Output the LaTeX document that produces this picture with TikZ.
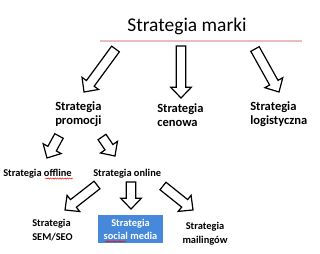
\documentclass[tikz,border=0pt]{standalone}
\usepackage{fontspec}
\setmainfont{Carlito}
\usetikzlibrary{calc,decorations.pathmorphing}

\definecolor{boxblue}{RGB}{70,136,218}
\definecolor{rulepink}{RGB}{232,190,186}

% hollow block arrow between two named coordinates
\newcommand{\blockarrow}[2]{%
  \coordinate (hb) at ($(#2)!8pt!(#1)$);
  \draw[barrow] ($(#1)!3.6pt!90:(#2)$) -- ($(hb)!3.6pt!90:(#2)$)
    -- ($(hb)!7.7pt!90:(#2)$) -- (#2) -- ($(hb)!7.7pt!-90:(#2)$)
    -- ($(hb)!3.6pt!-90:(#2)$) -- ($(#1)!3.6pt!-90:(#2)$) -- cycle;}

\begin{document}
\begin{tikzpicture}[x=0.75pt,y=-0.75pt,
	barrow/.style={draw=black,fill=white,line width=0.9pt,line join=miter},
	toplbl/.style={font=\fontsize{14.6}{16}\selectfont,anchor=base,inner sep=0pt},
	midlbl/.style={font=\fontsize{9.4}{10.5}\selectfont\bfseries,align=left,anchor=base west,inner sep=0pt},
	lowlbl/.style={font=\fontsize{7.8}{9.8}\selectfont\bfseries,align=left,anchor=base west,inner sep=0pt},
	bluebox/.style={font=\fontsize{7.8}{9.8}\selectfont\bfseries,align=center,text=white,fill=boxblue,
		minimum width=48.75pt,minimum height=21pt,inner sep=0pt},
	spell/.style={draw=red,line width=0.35pt,decorate,decoration={snake,amplitude=0.45pt,segment length=1.8pt}}]
	\useasboundingbox (0,0) rectangle (320,253);

	\node[toplbl] (marki) at (187,31.7) {Strategia marki};
	\draw[rulepink,line width=0.8pt] (100,41) coordinate (rl) -- (302,41) coordinate (rr);

	% multi-line labels sit on the baseline of their last line
	\node[midlbl] (promocji) at (55,124) {Strategia\\promocji};
	\node[midlbl] (cenowa) at (157,126.7) {Strategia\\cenowa};
	\node[midlbl] (logistyczna) at (250,124.7) {Strategia\\logistyczna};

	\node[lowlbl] (offline) at (3,176) {Strategia offline};
	\node[lowlbl] (online) at (93,176) {Strategia online};

	\node[lowlbl] (semseo) at (32,240) {Strategia\\SEM/SEO};
	\node[bluebox] (social) at (130.5,229) {Strategia\\social media};
	\node[lowlbl,align=center,anchor=base] (mailingi) at (205,243) {Strategia\\mailingów};

	% spelling marks
	\draw[spell] (45,178.5) -- (73,178.5);
	\draw[spell] (105,241.5) -- (126,241.5);

	% arrow ends
	\coordinate (a1s) at (115.5,49);  \coordinate (a1e) at (84,92);
	\coordinate (a2s) at (181,46);    \coordinate (a2e) at (181,98);
	\coordinate (a3s) at (255,49);    \coordinate (a3e) at (279,92);
	\coordinate (a4s) at (59,136);    \coordinate (a4e) at (47,158);
	\coordinate (a5s) at (102,137);   \coordinate (a5e) at (115,156);
	\coordinate (a6s) at (97,185);    \coordinate (a6e) at (65,210);
	\coordinate (a7s) at (131,182);   \coordinate (a7e) at (131,209);
	\coordinate (a8s) at (163,186);   \coordinate (a8e) at (193,210);

	\foreach \i in {1,...,8}
		\blockarrow{a\i s}{a\i e};
\end{tikzpicture}
\end{document}
